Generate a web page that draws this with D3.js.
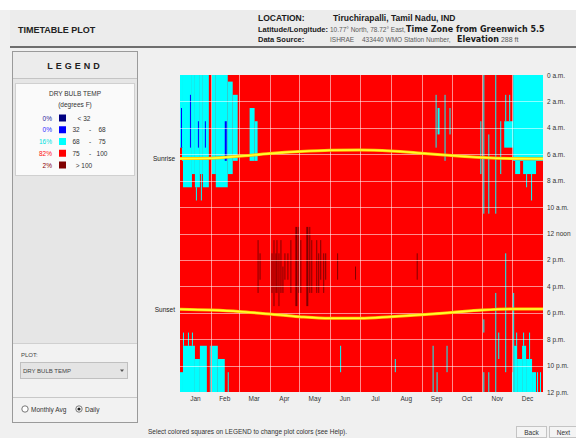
<!DOCTYPE html>
<html>
<head>
<meta charset="utf-8">
<script src="https://cdn.jsdelivr.net/npm/d3@7"></script>
<style>
  html, body { margin: 0; padding: 0; background: #ffffff; }
  svg { display: block; font-family: "Liberation Sans", Arial, sans-serif; }
</style>
</head>
<body>
<svg id="chart" width="576" height="438"></svg>
<script>
// ---- Chart data -------------------------------------------------------
const months = ["Jan","Feb","Mar","Apr","May","Jun","Jul","Aug","Sep","Oct","Nov","Dec"];
const monthStart = [0,31,59,90,120,151,181,212,243,273,304,334,365];
const hourTicks = [0,2,4,6,8,10,12,14,16,18,20,22,24];
const hourLabels = ["0 a.m.","2 a.m.","4 a.m.","6 a.m.","8 a.m.","10 a.m.","12 noon",
                    "2 p.m.","4 p.m.","6 p.m.","8 p.m.","10 p.m.","12 p.m."];

// Dry bulb temperature bins (degrees F) and share of the year's hours
const binRanges = [["< 32"],["32","-","68"],["68","-","75"],["75","-","100"],["> 100"]];
const binShare = [0, 0, 16, 82, 2];
const baseBin = 3; // hours not listed in a run fall in 75 - 100

// Sunrise / sunset (decimal hours) at the start of each month
const sunDays = [0,31,59,90,120,151,181,212,243,273,304,334,365];
const sunrise = [6.33,6.30,6.15,5.95,5.80,5.70,5.68,5.75,5.92,6.10,6.25,6.33,6.35];
const sunset  = [17.74,17.80,17.90,18.10,18.30,18.42,18.42,18.30,18.15,17.98,17.80,17.72,17.72];

// Runs of hours per bin: [first day, day after last, from hour, to hour]
const runs68to75 = [
  // January mornings
  [0,3,0,5.5],[3,12,0,8.5],[12,15,0,7.5],[15,20,0,8.5],[20,23,0,7.5],[23,29,0,8.5],
  [16,17,8.5,9.5],[21,22,7.5,9.5],[2,3,5.5,6.5],
  // February mornings
  [32,36,0,7.5],[36,48,0,8.5],[48,53,0.5,7.5],[53,58,1.5,6.5],
  // March
  [70,75,2.5,6.5],[75,78,3.5,6.5],
  // September
  [257,258,1.5,5.5],[259,261,2.5,4.5],[266,267,1.5,6.5],[271,272,2.5,4.5],
  // October / November mornings
  [302,303,3.5,7.5],[305,306,0,10.5],[310,311,4.5,10.5],[317,318,0,10.5],
  [322,323,3.5,7.5],[327,328,1.5,3.5],[331,332,1.5,3.5],[326,335,3.5,5.5],
  // December mornings
  [335,365,0,6.5],[337,342,6.5,7.5],[345,358,6.5,7.5],[348,349,7.5,8.5],[353,354,7.5,9.5],
  // January / February evenings
  [0,3,22.5,24],[3,15,20.5,24],[15,20,21.5,24],[20,27,20.5,24],[30,31,20.5,24],
  [32,38,20.5,24],[38,45,21.5,24],[48,49,22.5,24],
  [3,4,19.5,20.5],[8,9,19.5,20.5],[12,13,19.5,20.5],
  // June - September evenings
  [161,162,20.5,22.5],[216,217,21.5,22.5],
  [254,255,20.5,24],[258,259,22.5,24],[268,269,20.5,22.5],
  // October / November evenings
  [305,306,18.5,19.5],[305,306,22.5,24],[310,311,22.5,24],[317,318,16.5,24],
  [320,321,19.5,21.5],[327,328,13.5,22.5],[334,335,22.5,24],[335,336,16.5,24],
  // December evenings
  [336,339,20.5,24],[339,344,21.5,24],[344,348,20.5,24],[348,354,21.5,24],[354,358,22.5,24],
  [338,339,19.5,20.5],[345,346,19.5,20.5],[351,352,19.5,21.5],[359,360,22.5,24],[362,363,22.5,24]
];

const runs32to68 = [
  [1,2,2.5,5.5],[10,11,1.5,5.5],[18,19,3.5,5.5],[25,26,3.5,5.5],[45,47,3.5,6.5]
];

const runsOver100 = [
  [78,79,12.5,16.5],[80,81,13.5,15.5],[92,93,13.5,16.5],[94,95,12.5,17.5],[96,97,13.5,16.5],
  [97,98,12.5,16.5],[99,100,13.5,17.5],[101,102,12.5,16.5],[103,104,14.5,16.5],[105,106,13.5,15.5],
  [108,109,13.5,15.5],[111,112,12.5,16.5],[116,118,11.5,17.5],[119,120,11.5,16.5],[121,122,12.5,16.5],
  [127,129,11.5,17.5],[130,131,11.5,16.5],[132,133,12.5,16.5],[137,138,12.5,16.5],[139,140,13.5,16.5],
  [141,142,12.5,15.5],[144,145,13.5,16.5],[146,147,13.5,15.5],[158,159,13.5,15.5],[176,177,14.5,15.5],
  [238,239,13.5,15.5]
];

// ---- Styling ----------------------------------------------------------
const binColor = ["#000080", "#0000ff", "#00ffff", "#ff0000", "#800000"];
const shareColor = ["#1a1a99", "#1a1aff", "#00e0e0", "#ff1010", "#8b0000"];
const textDark = "#1a1a1a";
const textGray = "#5a5a5a";
const wideBold = "'DejaVu Sans', Verdana, sans-serif";

const svg = d3.select("#chart");

// ---- Window chrome ----------------------------------------------------
svg.append("rect").attr("x", 0).attr("y", 0).attr("width", 576).attr("height", 438).attr("fill", "#f0f0f0");
svg.append("rect").attr("x", 0).attr("y", 0).attr("width", 576).attr("height", 10).attr("fill", "#ffffff");
// header band
svg.append("rect").attr("x", 10).attr("y", 10).attr("width", 566).attr("height", 37).attr("fill", "#ececec");
svg.append("rect").attr("x", 10).attr("y", 46).attr("width", 566).attr("height", 2).attr("fill", "#6e6e6e");

const header = svg.append("g").attr("fill", textDark);
header.append("text").attr("x", 18).attr("y", 33).attr("font-size", 9).attr("font-weight", "bold")
  .attr("fill", "#222").text("TIMETABLE PLOT");
header.append("text").attr("x", 258).attr("y", 21).attr("font-size", 8.5).attr("font-weight", "bold").text("LOCATION:");
header.append("text").attr("x", 333).attr("y", 21).attr("font-size", 8.5).attr("font-weight", "bold")
  .text("Tiruchirapalli, Tamil Nadu, IND");
header.append("text").attr("x", 258).attr("y", 32).attr("font-size", 7.5).attr("font-weight", "bold").text("Latitude/Longitude:");
header.append("text").attr("x", 330).attr("y", 32).attr("font-size", 6.5).attr("fill", textGray)
  .text("10.77° North, 78.72° East,");
header.append("text").attr("x", 406).attr("y", 32).attr("font-size", 8).attr("font-weight", "bold")
  .attr("font-family", wideBold).text("Time Zone from Greenwich 5.5");
header.append("text").attr("x", 258).attr("y", 42).attr("font-size", 7.5).attr("font-weight", "bold").text("Data Source:");
header.append("text").attr("x", 330).attr("y", 42).attr("font-size", 6.5).attr("fill", textGray).text("ISHRAE");
header.append("text").attr("x", 362).attr("y", 42).attr("font-size", 6.5).attr("fill", textGray)
  .text("433440 WMO Station Number,");
const elev = header.append("text").attr("x", 457).attr("y", 42);
elev.append("tspan").attr("font-size", 8).attr("font-weight", "bold").attr("font-family", wideBold).text("Elevation");
elev.append("tspan").attr("font-size", 7).attr("fill", textGray).text(" 288 ft");

// ---- Left panel: legend and plot selector ------------------------------
const panel = svg.append("g");
panel.append("rect").attr("x", 12.5).attr("y", 51.5).attr("width", 125).attr("height", 371)
  .attr("fill", "#e6e6e6").attr("stroke", "#9a9a9a");
panel.append("rect").attr("x", 13).attr("y", 52).attr("width", 124).attr("height", 26).attr("fill", "#ececec");
panel.append("line").attr("x1", 13).attr("x2", 137).attr("y1", 78.5).attr("y2", 78.5).attr("stroke", "#c4c4c4");
panel.append("text").attr("x", 75).attr("y", 69).attr("text-anchor", "middle")
  .attr("font-size", 9).attr("font-weight", "bold").attr("letter-spacing", 3).attr("fill", "#222")
  .text("LEGEND");

panel.append("rect").attr("x", 15.5).attr("y", 83.5).attr("width", 119).attr("height", 92)
  .attr("fill", "#fafafa").attr("stroke", "#d0d0d0");
panel.append("text").attr("x", 75).attr("y", 96).attr("text-anchor", "middle")
  .attr("font-size", 6.5).attr("fill", "#333").text("DRY BULB TEMP");
panel.append("text").attr("x", 75).attr("y", 107).attr("text-anchor", "middle")
  .attr("font-size", 6.5).attr("fill", "#333").text("(degrees F)");

const rowY = d3.scalePoint().domain(d3.range(binRanges.length)).range([118, 165]);
const legendRows = panel.selectAll("g.legend-row").data(binRanges).join("g")
  .attr("class", "legend-row")
  .attr("transform", (d, i) => `translate(0,${rowY(i)})`);
legendRows.append("text").attr("x", 52).attr("y", 2.5).attr("text-anchor", "end")
  .attr("font-size", 6.5).attr("fill", (d, i) => shareColor[i]).text((d, i) => binShare[i] + "%");
legendRows.append("rect").attr("x", 59).attr("y", -3.5).attr("width", 7).attr("height", 7)
  .attr("fill", (d, i) => binColor[i]);
legendRows.each(function(d) {
  const g = d3.select(this);
  if (d.length === 1) {
    g.append("text").attr("x", 84).attr("y", 2.5).attr("text-anchor", "middle")
      .attr("font-size", 6.5).attr("fill", "#333").text(d[0]);
  } else {
    [76, 90, 102].forEach((x, k) => {
      g.append("text").attr("x", x).attr("y", 2.5).attr("text-anchor", "middle")
        .attr("font-size", 6.5).attr("fill", "#333").text(d[k]);
    });
  }
});

// plot selector
panel.append("rect").attr("x", 13).attr("y", 343).attr("width", 124).attr("height", 79).attr("fill", "#f2f2f2");
panel.append("line").attr("x1", 13).attr("x2", 137).attr("y1", 343.5).attr("y2", 343.5).attr("stroke", "#d0d0d0");
panel.append("text").attr("x", 21).attr("y", 357).attr("font-size", 6).attr("fill", "#444").text("PLOT:");
panel.append("rect").attr("x", 20.5).attr("y", 362.5).attr("width", 107).attr("height", 16)
  .attr("fill", "#e4e4e4").attr("stroke", "#c0c0c0");
panel.append("text").attr("x", 23).attr("y", 373).attr("font-size", 6).attr("fill", "#444").text("DRY BULB TEMP");
panel.append("path").attr("d", "M120,369.5 L124,369.5 L122,372 Z").attr("fill", "#555");
panel.append("line").attr("x1", 13).attr("x2", 137).attr("y1", 397.5).attr("y2", 397.5).attr("stroke", "#c8c8c8");
panel.append("circle").attr("cx", 25).attr("cy", 409).attr("r", 3.2).attr("fill", "#fff").attr("stroke", "#777");
panel.append("text").attr("x", 31).attr("y", 411.5).attr("font-size", 6.5).attr("fill", "#333").text("Monthly Avg");
panel.append("circle").attr("cx", 79).attr("cy", 409).attr("r", 3.2).attr("fill", "#fff").attr("stroke", "#777");
panel.append("circle").attr("cx", 79).attr("cy", 409).attr("r", 1.6).attr("fill", "#222");
panel.append("text").attr("x", 85).attr("y", 411.5).attr("font-size", 6.5).attr("fill", "#333").text("Daily");

// ---- Timetable plot ---------------------------------------------------
const x = d3.scaleLinear().domain([0, 365]).range([180, 543]);
const y = d3.scaleLinear().domain([0, 24]).range([75, 392]);

const plot = svg.append("g");
// background bin covers every hour of the year
plot.append("rect")
  .attr("x", x(0)).attr("y", y(0))
  .attr("width", x(365) - x(0)).attr("height", y(24) - y(0))
  .attr("fill", binColor[baseBin]);

function drawRuns(data, bin) {
  plot.append("g").selectAll("rect").data(data).join("rect")
    .attr("x", d => x(d[0]))
    .attr("width", d => x(d[1]) - x(d[0]))
    .attr("y", d => y(d[2]))
    .attr("height", d => y(d[3]) - y(d[2]))
    .attr("fill", binColor[bin]);
}
drawRuns(runs68to75, 2);
drawRuns(runs32to68, 1);
drawRuns(runsOver100, 4);

// grid
const grid = plot.append("g").attr("stroke", "#ffffff").attr("stroke-opacity", 0.55).attr("stroke-width", 1);
grid.selectAll("line.v").data(monthStart.slice(1, -1)).join("line").attr("class", "v")
  .attr("x1", d => Math.round(x(d)) + 0.5).attr("x2", d => Math.round(x(d)) + 0.5)
  .attr("y1", y(0)).attr("y2", y(24));
grid.selectAll("line.h").data(hourTicks.slice(1, -1)).join("line").attr("class", "h")
  .attr("x1", x(0)).attr("x2", x(365))
  .attr("y1", d => Math.round(y(d)) + 0.5).attr("y2", d => Math.round(y(d)) + 0.5);

// sunrise / sunset curves
const sunLine = vals => d3.line().x((d, i) => x(sunDays[i])).y(d => y(d)).curve(d3.curveMonotoneX)(vals);
[sunrise, sunset].forEach(vals => {
  plot.append("path").attr("d", sunLine(vals)).attr("fill", "none")
    .attr("stroke", "#ffc400").attr("stroke-width", 3);
  plot.append("path").attr("d", sunLine(vals)).attr("fill", "none")
    .attr("stroke", "#ffff30").attr("stroke-width", 1.6);
});
svg.append("text").attr("x", 175).attr("y", y(sunrise[0]) + 2.5).attr("text-anchor", "end")
  .attr("font-size", 6.5).attr("fill", "#222").text("Sunrise");
svg.append("text").attr("x", 175).attr("y", y(sunset[0]) + 2.5).attr("text-anchor", "end")
  .attr("font-size", 6.5).attr("fill", "#222").text("Sunset");

// axes labels
svg.append("g").selectAll("text").data(hourTicks).join("text")
  .attr("x", 547).attr("y", d => y(d) + 2.5)
  .attr("font-size", 6.5).attr("fill", "#333")
  .text((d, i) => hourLabels[i]);
svg.append("g").selectAll("text").data(months).join("text")
  .attr("x", (d, i) => x((monthStart[i] + monthStart[i + 1]) / 2))
  .attr("y", 401).attr("text-anchor", "middle")
  .attr("font-size", 6.5).attr("fill", "#333").text(d => d);

// ---- Footer -----------------------------------------------------------
svg.append("text").attr("x", 148).attr("y", 434).attr("font-size", 6.5).attr("fill", "#333")
  .text("Select colored squares on LEGEND to change plot colors (see Help).");
[["Back", 516, 30], ["Next", 549, 28]].forEach(([label, bx, bw]) => {
  svg.append("rect").attr("x", bx + 0.5).attr("y", 426.5).attr("width", bw).attr("height", 11)
    .attr("fill", "#f4f4f4").attr("stroke", "#c4c4c4");
  svg.append("text").attr("x", bx + bw / 2 + 0.5).attr("y", 434.5).attr("text-anchor", "middle")
    .attr("font-size", 6.5).attr("fill", "#333").text(label);
});
</script>
</body>
</html>
